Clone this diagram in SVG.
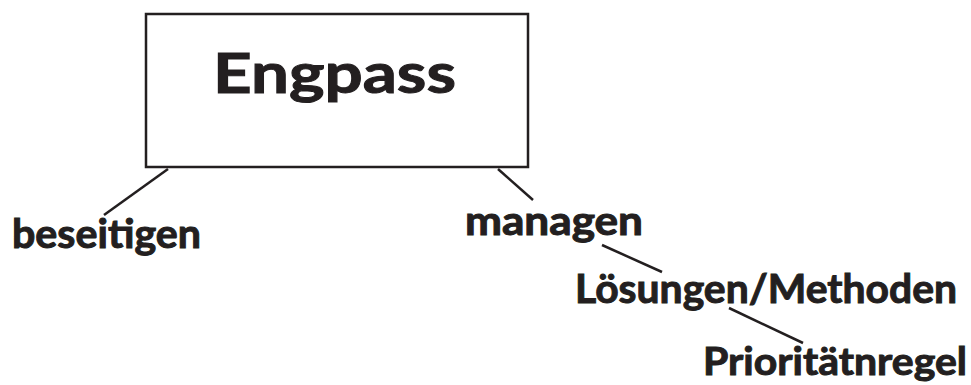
<svg xmlns="http://www.w3.org/2000/svg" width="971" height="385" viewBox="0 0 971 385">
<style>
.t{font-family:Lato,"Liberation Sans",sans-serif;font-weight:bold;fill:#231f20;stroke:#231f20;stroke-width:1}
.c line{stroke:#231f20;stroke-width:2.5}
</style>
<rect width="971" height="385" fill="#fff"/>
<g id="engpass">
<rect x="146" y="14" width="382" height="153" fill="#fff" stroke="#231f20" stroke-width="2.5"/>
<text class="t" x="213" y="93" font-size="56" stroke-width="1.4" textLength="243" lengthAdjust="spacingAndGlyphs">Engpass</text>
</g>
<g id="beseitigen"><text class="t" x="12" y="248" font-size="40" textLength="189" lengthAdjust="spacingAndGlyphs">beseitigen</text></g>
<g id="managen"><text class="t" x="465" y="235" font-size="40" textLength="178" lengthAdjust="spacingAndGlyphs">managen</text></g>
<g id="loesungen"><text class="t" x="575" y="303" font-size="41" textLength="382" lengthAdjust="spacingAndGlyphs">Lösungen/Methoden</text></g>
<g id="prioritaet"><text class="t" x="703" y="375" font-size="39" textLength="264" lengthAdjust="spacingAndGlyphs">Prioritätnregel</text></g>
<g class="c" id="connectors">
<line x1="168" y1="169" x2="104" y2="215"/>
<line x1="498" y1="169" x2="533" y2="200"/>
<line x1="602" y1="245" x2="662" y2="272"/>
<line x1="729" y1="308" x2="803" y2="343"/>
</g>
</svg>
